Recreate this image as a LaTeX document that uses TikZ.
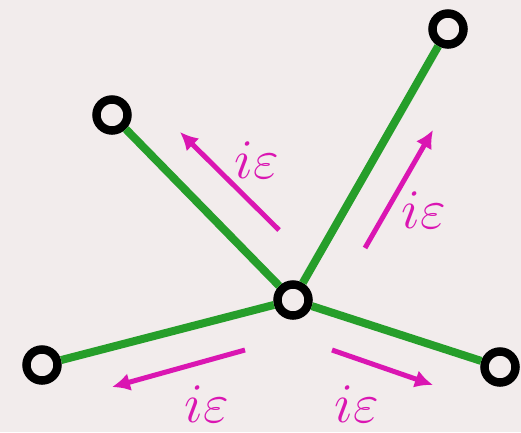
\documentclass[tikz,border=0pt]{standalone}
\usepackage{amsmath, amssymb}
\usepackage{tikz}
\usetikzlibrary{arrows.meta}

\definecolor{bgpaper}{RGB}{242,236,236}
\definecolor{edgegreen}{RGB}{38,158,42}
\definecolor{flowpink}{RGB}{218,22,178}

\newcommand{\bigeps}{\scalebox{2.25}{\Huge$i\varepsilon$}}

\begin{document}
\begin{tikzpicture}[x=1pt, y=-1pt,
    vtx/.style={circle, draw=black, line width=8.5pt, fill=bgpaper, minimum size=31pt, inner sep=0pt},
    edge/.style={edgegreen, line width=8pt},
    flow/.style={flowpink, line width=5pt, -{Latex[length=18pt, width=18pt]}},
    lbl/.style={flowpink, inner sep=0pt}]
    % background and frame
    \fill[bgpaper] (0, 0) rectangle (521, 432);
    \useasboundingbox (0, 0) rectangle (521, 432);

    % vertices
    \node[vtx] (ctr) at (293, 300) {};
    \node[vtx] (tl) at (112, 115) {};
    \node[vtx] (tr) at (448, 29) {};
    \node[vtx] (bl) at (42, 365) {};
    \node[vtx] (br) at (500, 367) {};

    % edges from the centre
    \draw[edge] (ctr) -- (tl);
    \draw[edge] (ctr) -- (tr);
    \draw[edge] (ctr) -- (bl);
    \draw[edge] (ctr) -- (br);

    % arrows pointing outwards
    \coordinate (a1s) at (279, 230);
    \coordinate (a1e) at (180, 132);
    \coordinate (a2s) at (365, 248);
    \coordinate (a2e) at (433, 130);
    \coordinate (a3s) at (245, 350);
    \coordinate (a3e) at (112, 387);
    \coordinate (a4s) at (332, 350);
    \coordinate (a4e) at (433, 385);
    \draw[flow] (a1s) -- (a1e);
    \draw[flow] (a2s) -- (a2e);
    \draw[flow] (a3s) -- (a3e);
    \draw[flow] (a4s) -- (a4e);

    % labels
    \node[lbl] (l1) at (257, 160) {\bigeps};
    \node[lbl] (l2) at (424, 210) {\bigeps};
    \node[lbl] (l3) at (207, 404) {\bigeps};
    \node[lbl] (l4) at (357, 404) {\bigeps};
\end{tikzpicture}
\end{document}
